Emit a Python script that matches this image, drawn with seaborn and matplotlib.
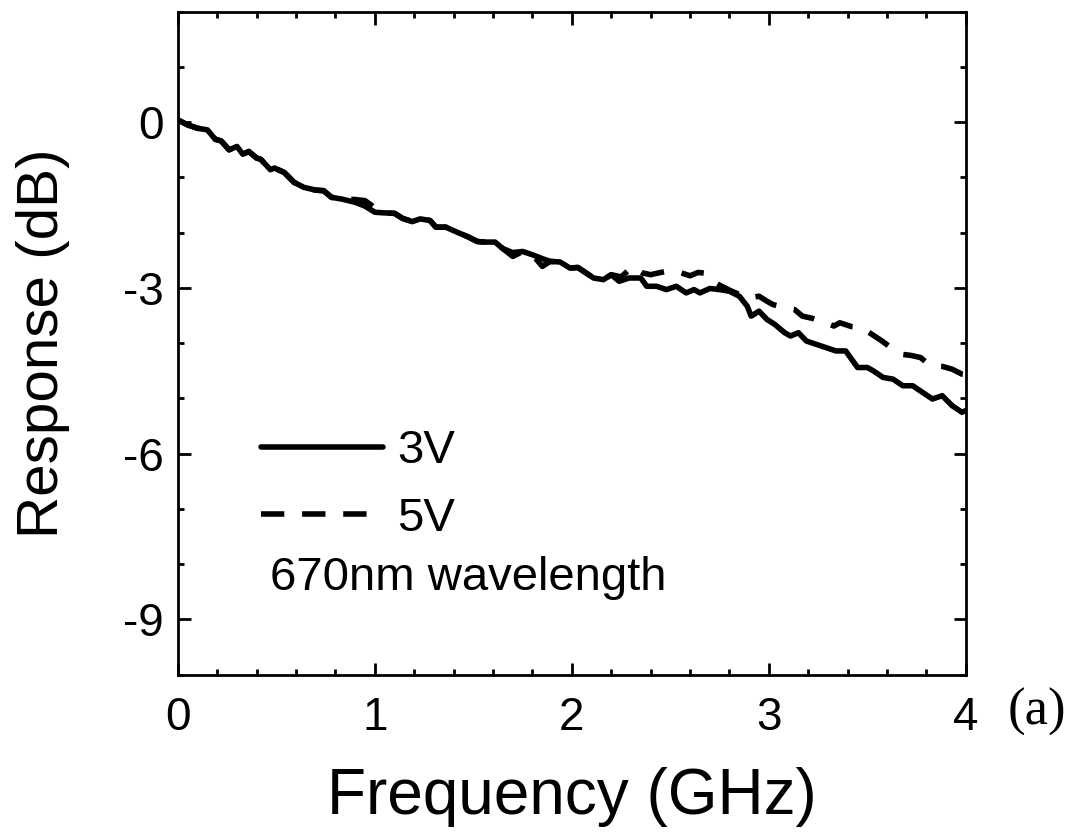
import pandas as pd
import seaborn as sns
import matplotlib.pyplot as plt
from matplotlib.lines import Line2D
from matplotlib.ticker import MultipleLocator

freq_3v = [0.00, 0.05, 0.10, 0.15, 0.19, 0.22, 0.26, 0.30, 0.33, 0.36, 0.40, 0.42,
           0.47, 0.49, 0.54, 0.59, 0.64, 0.70, 0.74, 0.78, 0.83, 0.90, 0.95, 1.00,
           1.04, 1.10, 1.14, 1.19, 1.23, 1.28, 1.31, 1.36, 1.41, 1.47, 1.52, 1.56,
           1.61, 1.65, 1.70, 1.75, 1.80, 1.85, 1.89, 1.94, 1.99, 2.03, 2.06, 2.11,
           2.16, 2.20, 2.24, 2.29, 2.35, 2.38, 2.43, 2.48, 2.53, 2.58, 2.62, 2.65,
           2.70, 2.75, 2.80, 2.85, 2.89, 2.91, 2.95, 2.99, 3.03, 3.06, 3.08, 3.11,
           3.15, 3.19, 3.24, 3.29, 3.34, 3.39, 3.42, 3.45, 3.50, 3.53, 3.58, 3.63,
           3.68, 3.73, 3.78, 3.83, 3.88, 3.93, 3.98, 4.00]
resp_3v = [0.04, -0.05, -0.11, -0.14, -0.31, -0.34, -0.50, -0.44, -0.58, -0.53, -0.65, -0.67,
           -0.86, -0.83, -0.91, -1.09, -1.18, -1.23, -1.24, -1.36, -1.39, -1.45, -1.52, -1.63,
           -1.64, -1.65, -1.74, -1.80, -1.75, -1.78, -1.90, -1.90, -1.98, -2.07, -2.16, -2.17,
           -2.17, -2.29, -2.36, -2.34, -2.40, -2.47, -2.52, -2.53, -2.64, -2.63, -2.70, -2.82,
           -2.85, -2.76, -2.88, -2.82, -2.82, -2.97, -2.97, -3.03, -2.97, -3.09, -3.03, -3.09,
           -3.01, -3.03, -3.06, -3.15, -3.33, -3.51, -3.42, -3.57, -3.66, -3.75, -3.81, -3.87,
           -3.81, -3.96, -4.02, -4.08, -4.14, -4.14, -4.29, -4.44, -4.44, -4.50, -4.62, -4.65,
           -4.77, -4.77, -4.89, -5.01, -4.95, -5.13, -5.25, -5.22]

freq_5v = [0.00, 0.05, 0.10, 0.15, 0.19, 0.22, 0.26, 0.30, 0.33, 0.36, 0.40, 0.42,
           0.47, 0.49, 0.54, 0.59, 0.64, 0.70, 0.74, 0.78, 0.83, 0.90, 0.95, 1.00,
           1.04, 1.10, 1.14, 1.19, 1.23, 1.28, 1.31, 1.36, 1.41, 1.47, 1.52, 1.56,
           1.61, 1.65, 1.70, 1.75, 1.80, 1.85, 1.89, 1.94, 1.99, 2.03, 2.06, 2.11,
           2.16, 2.20, 2.25, 2.31, 2.36, 2.40, 2.45, 2.48, 2.54, 2.60, 2.64, 2.67,
           2.69, 2.75, 2.80, 2.85, 2.90, 2.95, 2.99, 3.02, 3.07, 3.13, 3.17, 3.22,
           3.29, 3.33, 3.36, 3.42, 3.47, 3.51, 3.57, 3.62, 3.67, 3.72, 3.77, 3.82,
           3.88, 3.93, 3.98, 4.00]
resp_5v = [0.04, -0.05, -0.11, -0.14, -0.31, -0.34, -0.50, -0.44, -0.58, -0.53, -0.65, -0.67,
           -0.86, -0.83, -0.91, -1.09, -1.18, -1.23, -1.24, -1.36, -1.39, -1.40, -1.42, -1.55,
           -1.64, -1.65, -1.74, -1.80, -1.75, -1.78, -1.90, -1.90, -1.98, -2.07, -2.16, -2.17,
           -2.17, -2.29, -2.43, -2.34, -2.40, -2.61, -2.52, -2.53, -2.64, -2.63, -2.70, -2.82,
           -2.85, -2.76, -2.80, -2.61, -2.73, -2.76, -2.72, -2.70, -2.71, -2.78, -2.72, -2.73,
           -2.82, -2.95, -3.04, -3.12, -3.18, -3.15, -3.24, -3.30, -3.35, -3.39, -3.51, -3.55,
           -3.63, -3.69, -3.63, -3.70, -3.72, -3.81, -3.95, -4.08, -4.20, -4.22, -4.26, -4.41,
           -4.42, -4.47, -4.56, -4.57]

bias_labels = ['3V', '5V']

df = pd.concat([
    pd.DataFrame({'Frequency': freq_3v, 'Response': resp_3v, 'Bias': bias_labels[0]}),
    pd.DataFrame({'Frequency': freq_5v, 'Response': resp_5v, 'Bias': bias_labels[1]}),
])

sns.set_style('ticks')
plt.rcParams['font.family'] = ['Liberation Sans', 'DejaVu Sans']
plt.rcParams['axes.unicode_minus'] = False
for key in ['text.color', 'axes.labelcolor', 'xtick.color', 'ytick.color', 'axes.edgecolor']:
    plt.rcParams[key] = 'black'

fig = plt.figure(figsize=(10.78, 8.33), dpi=100)
ax = fig.add_axes([0.165, 0.19, 0.731, 0.796])

lw = 4.0
dash = (4.2, 3.2)
sns.lineplot(data=df, x='Frequency', y='Response', style='Bias', color='black',
             dashes={'3V': '', '5V': dash}, linewidth=lw, sort=False,
             legend=False, ax=ax)

ax.set_xlim(0, 4)
ax.set_ylim(-10, 2)
ax.xaxis.set_major_locator(MultipleLocator(1))
ax.xaxis.set_minor_locator(MultipleLocator(0.2))
ax.yaxis.set_major_locator(MultipleLocator(3))
ax.yaxis.set_minor_locator(MultipleLocator(1))
ax.tick_params(which='both', direction='in', top=True, right=True, width=2)
ax.tick_params(which='major', length=9, labelsize=33)
ax.tick_params(which='minor', length=4.5)
ax.tick_params(axis='x', pad=15)
ax.tick_params(axis='y', pad=10)
for s in ax.spines.values():
    s.set_linewidth(2)

ax.set_xlabel('Frequency (GHz)', fontsize=46, labelpad=20)
ax.set_ylabel('Response (dB)', fontsize=42, labelpad=38)

handles = [Line2D([], [], color='black', lw=lw),
           Line2D([], [], color='black', lw=lw, dashes=dash)]
ax.legend(handles, bias_labels, loc='upper left', bbox_to_anchor=(0.105, 0.37),
          frameon=False, fontsize=34, handlelength=2.6, handletextpad=0.3,
          labelspacing=0.5, borderpad=0, borderaxespad=0)
ax.text(0.117, 0.146, '670nm wavelength', transform=ax.transAxes, fontsize=34,
        va='center', ha='left')
fig.text(0.962, 0.145, '(a)', fontsize=38, family='Liberation Serif',
         ha='center', va='center')

fig.savefig('out.png', dpi=100)
